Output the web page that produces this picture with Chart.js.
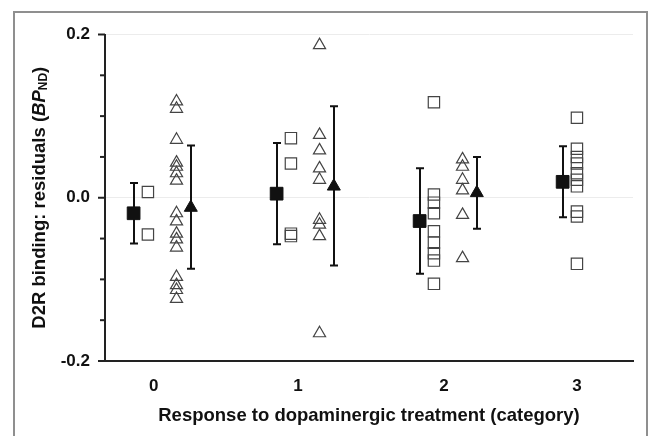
<!DOCTYPE html>
<html>
<head>
<meta charset="utf-8">
<script src="https://cdn.jsdelivr.net/npm/chart.js@4.4.1/dist/chart.umd.min.js"></script>
<style>
  html, body { margin: 0; padding: 0; background: #fff; }
  #wrap { position: relative; width: 652px; height: 436px; overflow: hidden; }
  #frame { position: absolute; left: 13px; top: 11px; width: 635px; height: 440px; border: 2px solid #8f8f8f; box-sizing: border-box; pointer-events: none; }
  canvas { position: absolute; left: 0; top: 0; }
</style>
</head>
<body>
<div id="wrap">
  <canvas id="c" width="652" height="436"></canvas>
  <div id="frame"></div>
</div>
<script>
// ---- data ----
const categories = [0, 1, 2, 3];
const tickLabels = ['0', '1', '2', '3'];
const yTickLabels = ['-0.2', '0.0', '0.2'];

// group A: squares (filled = mean, open = individuals)
const meanA = [-0.019, 0.005, -0.0285, 0.0195];
const lowA  = [-0.056, -0.057, -0.093, -0.024];
const highA = [0.018, 0.067, 0.036, 0.063];
const sqCat0 = [0.007, -0.045];
const sqCat1 = [0.073, 0.042, -0.044, -0.047];
const sqCat2 = [0.117, 0.004, -0.006, -0.019, -0.041, -0.055, -0.068, -0.077, -0.1055];
const sqCat3 = [0.098, 0.060, 0.050, 0.042, 0.030, 0.022, 0.014, -0.017, -0.023, -0.081];

// group B: triangles (filled = mean, open = individuals)
const meanB = [-0.012, 0.014, 0.006, null];
const lowB  = [-0.087, -0.083, -0.038, null];
const highB = [0.064, 0.112, 0.050, null];
const triCat0 = [0.118, 0.109, 0.071, 0.043, 0.038, 0.030, 0.021, -0.019, -0.029, -0.044, -0.051, -0.061, -0.097, -0.107, -0.113, -0.124];
const triCat1 = [0.187, 0.077, 0.058, 0.036, 0.022, -0.027, -0.033, -0.047, -0.166];
const triCat2 = [0.047, 0.038, 0.022, 0.009, -0.021, -0.074];
const triCat3 = [];

// ---- layout constants (not data) ----
const OFF_MEAN_A = -0.2, OFF_OPEN_A = -0.1, OFF_OPEN_B = 0.1, OFF_MEAN_B = 0.2;
const labelShift = [-0.06, -0.05, -0.03, -0.1];
const FONT = '"Liberation Sans", Arial, sans-serif';

const sqGroups = [sqCat0, sqCat1, sqCat2, sqCat3];
const triGroups = [triCat0, triCat1, triCat2, triCat3];

const openSqData = [];
sqGroups.forEach((arr, i) => arr.forEach(v => openSqData.push({x: categories[i] + OFF_OPEN_A, y: v})));
const openTriData = [];
triGroups.forEach((arr, i) => arr.forEach(v => openTriData.push({x: categories[i] + OFF_OPEN_B, y: v})));
const meanSqData = categories.map((c, i) => ({x: c + OFF_MEAN_A, y: meanA[i]}));
const meanTriData = categories.map((c, i) => meanB[i] === null ? null : ({x: c + OFF_MEAN_B, y: meanB[i]})).filter(d => d);

const INK = '#111';

const errorBars = {
  id: 'errorBars',
  beforeDatasetsDraw(chart) {
    const {ctx, scales: {x, y}} = chart;
    ctx.save();
    ctx.strokeStyle = INK;
    ctx.lineWidth = 2;
    const cap = 4;
    const draw = (cx, lo, hi) => {
      const px = Math.round(x.getPixelForValue(cx));
      const pl = y.getPixelForValue(lo), ph = y.getPixelForValue(hi);
      ctx.beginPath();
      ctx.moveTo(px, pl); ctx.lineTo(px, ph);
      ctx.moveTo(px - cap, pl); ctx.lineTo(px + cap, pl);
      ctx.moveTo(px - cap, ph); ctx.lineTo(px + cap, ph);
      ctx.stroke();
    };
    categories.forEach((c, i) => {
      draw(c + OFF_MEAN_A, lowA[i], highA[i]);
      if (meanB[i] !== null) draw(c + OFF_MEAN_B, lowB[i], highB[i]);
    });
    ctx.restore();
  }
};

const yTickMarks = {
  id: 'yTickMarks',
  afterDraw(chart) {
    const {ctx, scales: {y}} = chart;
    ctx.save();
    ctx.strokeStyle = '#222';
    ctx.lineWidth = 2;
    y.ticks.forEach(t => {
      const k = Math.round(t.value / 0.2);
      const major = Math.abs(t.value - k * 0.2) < 1e-9;
      const len = major ? 7 : 5;
      const py = y.getPixelForValue(t.value);
      ctx.beginPath();
      ctx.moveTo(y.right - len, py);
      ctx.lineTo(y.right, py);
      ctx.stroke();
    });
    ctx.restore();
  }
};

const titles = {
  id: 'titles',
  afterDraw(chart) {
    const {ctx, chartArea} = chart;
    ctx.save();
    ctx.fillStyle = INK;
    // x title
    ctx.font = 'bold 18.5px ' + FONT;
    ctx.textAlign = 'center';
    ctx.textBaseline = 'middle';
    ctx.fillText('Response to dopaminergic treatment (category)', (chartArea.left + chartArea.right) / 2, 416);
    // y title with mixed styles
    const parts = [
      {t: 'D2R binding: residuals (', f: 'bold 18.5px ' + FONT, dy: 0},
      {t: 'BP', f: 'italic bold 18.5px ' + FONT, dy: 0},
      {t: 'ND', f: 'bold 12px ' + FONT, dy: 4},
      {t: ')', f: 'bold 18.5px ' + FONT, dy: 0}
    ];
    let total = 0;
    parts.forEach(p => { ctx.font = p.f; p.w = ctx.measureText(p.t).width; total += p.w; });
    ctx.translate(40, (chartArea.top + chartArea.bottom) / 2);
    ctx.rotate(-Math.PI / 2);
    ctx.textAlign = 'left';
    ctx.textBaseline = 'middle';
    let xx = -total / 2;
    parts.forEach(p => { ctx.font = p.f; ctx.fillText(p.t, xx, p.dy); xx += p.w; });
    ctx.restore();
  }
};

new Chart(document.getElementById('c'), {
  type: 'scatter',
  data: {
    datasets: [
      {label: 'open squares', data: openSqData, pointStyle: 'rect', pointRadius: 8, pointHoverRadius: 8,
        borderColor: '#444', backgroundColor: 'rgba(0,0,0,0)', borderWidth: 1.2},
      {label: 'open triangles', data: openTriData, pointStyle: 'triangle', pointRadius: 7, pointHoverRadius: 7,
        borderColor: '#444', backgroundColor: 'rgba(0,0,0,0)', borderWidth: 1.2},
      {label: 'mean squares', data: meanSqData, pointStyle: 'rect', pointRadius: 9, pointHoverRadius: 9,
        borderColor: INK, backgroundColor: INK, borderWidth: 1},
      {label: 'mean triangles', data: meanTriData, pointStyle: 'triangle', pointRadius: 7.5, pointHoverRadius: 7.5,
        borderColor: INK, backgroundColor: INK, borderWidth: 1}
    ]
  },
  options: {
    responsive: false,
    animation: false,
    events: [],
    layout: {padding: {left: 0, right: 19, top: 34.5, bottom: 0}},
    plugins: {legend: {display: false}, tooltip: {enabled: false}},
    scales: {
      x: {
        type: 'linear',
        min: -0.4, max: 3.292,
        afterFit(s) { s.height = 75; },
        afterBuildTicks(s) { s.ticks = categories.map((c, i) => ({value: c + labelShift[i]})); },
        grid: {display: false, drawTicks: false},
        border: {display: true, color: '#222', width: 2},
        ticks: {
          autoSkip: false,
          maxRotation: 0,
          padding: 15,
          color: INK,
          font: {family: FONT, size: 17, weight: 'bold'},
          callback: (v, i) => tickLabels[i]
        }
      },
      y: {
        min: -0.2, max: 0.2,
        afterFit(s) { s.width = 105; },
        afterBuildTicks(s) {
          const t = [];
          for (let k = -4; k <= 4; k++) t.push({value: k * 0.05});
          s.ticks = t;
        },
        grid: {
          drawOnChartArea: true,
          drawTicks: false,
          color: (ctx) => {
            const v = ctx.tick ? ctx.tick.value : NaN;
            return (Math.abs(v) < 1e-9 || Math.abs(v - 0.2) < 1e-9) ? '#ececec' : 'rgba(0,0,0,0)';
          }
        },
        border: {display: true, color: '#222', width: 2},
        ticks: {
          autoSkip: false,
          padding: 15,
          color: INK,
          font: {family: FONT, size: 17, weight: 'bold'},
          callback: (v) => {
            const k = Math.round(v / 0.2);
            if (Math.abs(v - k * 0.2) < 1e-9) return yTickLabels[k + 1];
            return '';
          }
        }
      }
    }
  },
  plugins: [errorBars, yTickMarks, titles]
});
</script>
</body>
</html>
